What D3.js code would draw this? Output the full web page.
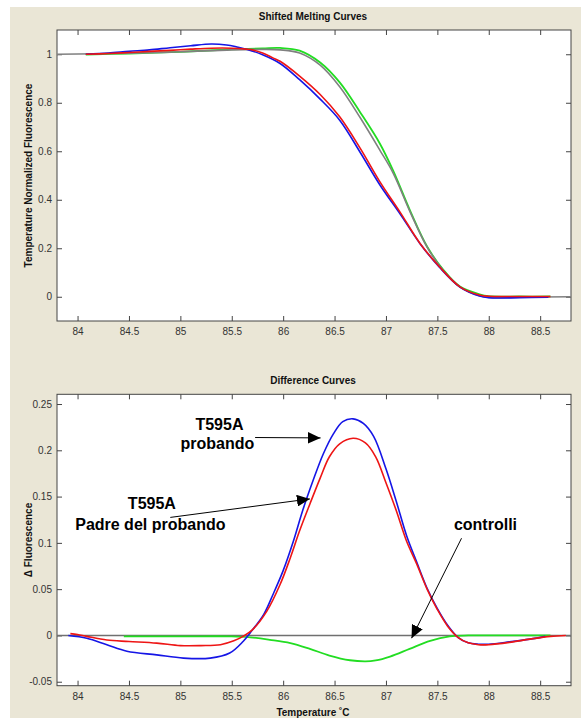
<html>
<head>
<meta charset="utf-8">
<script src="https://d3js.org/d3.v7.min.js"></script>
<style>
  body { margin: 0; background: #fff; }
  text { font-family: "Liberation Sans", Arial, sans-serif; }
  .tick text { font-size: 10px; fill: #333; }
  .tick line { stroke: #444; }
  .ttl { font-size: 10px; font-weight: bold; fill: #111; }
  .note { font-size: 16px; font-weight: bold; fill: #000; }
</style>
</head>
<body>
<svg id="chart" width="581" height="718"></svg>
<script>
// ---- top panel: Shifted Melting Curves ----
var meltBlueT = [84.08,84.3,84.5,84.7,84.9,85.1,85.3,85.45,85.55,85.65,85.8,85.97,86.16,86.36,86.55,86.75,86.94,87.14,87.33,87.52,87.72,87.91,88.0,88.3,88.58];
var meltBlue  = [1.000,1.005,1.012,1.018,1.027,1.035,1.042,1.038,1.030,1.020,0.998,0.962,0.895,0.815,0.728,0.595,0.462,0.340,0.220,0.122,0.040,0.003,-0.004,-0.004,-0.002];
var meltRedT = [84.08,84.3,84.5,84.7,84.9,85.1,85.3,85.5,85.64,85.7,85.8,85.9,85.97,86.16,86.36,86.55,86.75,86.94,87.14,87.33,87.52,87.72,87.91,88.0,88.3,88.6];
var meltRed  = [1.000,1.003,1.007,1.012,1.016,1.021,1.025,1.025,1.021,1.018,1.005,0.985,0.971,0.910,0.834,0.742,0.612,0.475,0.347,0.221,0.124,0.041,0.007,0.002,0.001,0.001];
var meltGreenT = [84.08,84.5,85.0,85.5,85.8,85.97,86.16,86.36,86.55,86.75,86.94,87.07,87.24,87.40,87.56,87.72,87.91,88.0,88.3,88.6];
var meltGreen  = [0.999,1.003,1.010,1.020,1.024,1.026,1.015,0.966,0.884,0.760,0.632,0.520,0.350,0.207,0.110,0.042,0.010,0.002,0.001,0.001];
var meltGrayT = [83.8,84.5,85.0,85.5,85.8,85.97,86.16,86.36,86.55,86.75,86.94,87.07,87.24,87.40,87.56,87.72,87.91,88.0,88.3,88.8];
var meltGray  = [1.000,1.004,1.010,1.018,1.020,1.018,1.005,0.955,0.866,0.738,0.605,0.510,0.345,0.205,0.107,0.040,0.004,-0.003,-0.002,0.000];

// ---- bottom panel: Difference Curves ----
var diffBlueT = [83.91,84.09,84.285,84.48,84.77,85.03,85.29,85.48,85.61,85.68,85.81,85.90,86.0,86.1,86.19,86.29,86.39,86.49,86.58,86.68,86.78,86.88,87.0,87.1,87.2,87.3,87.4,87.5,87.6,87.7,87.8,87.9,88.0,88.2,88.4,88.55];
var diffBlue  = [0.000,-0.003,-0.010,-0.017,-0.021,-0.0245,-0.0245,-0.019,-0.0065,0.003,0.0225,0.044,0.070,0.102,0.135,0.167,0.196,0.218,0.231,0.234,0.229,0.215,0.180,0.145,0.108,0.079,0.051,0.029,0.011,-0.002,-0.008,-0.0095,-0.0095,-0.007,-0.004,-0.001];
var diffRedT = [83.93,84.0,84.09,84.285,84.5,84.77,85.0,85.2,85.39,85.52,85.61,85.70,85.84,85.97,86.07,86.16,86.26,86.36,86.45,86.55,86.68,86.8,86.9,87.0,87.1,87.2,87.3,87.4,87.5,87.6,87.7,87.8,87.9,88.0,88.2,88.4,88.6,88.75];
var diffRed  = [0.002,0.001,-0.001,-0.005,-0.0065,-0.0083,-0.011,-0.011,-0.010,-0.0058,-0.001,0.006,0.026,0.055,0.084,0.113,0.142,0.170,0.193,0.207,0.213,0.208,0.193,0.165,0.135,0.102,0.077,0.050,0.028,0.010,-0.002,-0.008,-0.010,-0.010,-0.0075,-0.004,-0.001,0.000];
var diffGreenT = [84.45,85.0,85.5,85.68,85.87,86.07,86.26,86.45,86.65,86.8,86.9,87.04,87.23,87.43,87.62,87.8,88.2,88.6];
var diffGreen  = [-0.001,-0.001,-0.001,-0.002,-0.0047,-0.0083,-0.0145,-0.0217,-0.0268,-0.028,-0.027,-0.0228,-0.0145,-0.0058,-0.001,0.000,0.000,0.000];
var zeroT = [83.8,88.8];
var zeroV = [0,0];

var xTicks = [84,84.5,85,85.5,86,86.5,87,87.5,88,88.5];
var meltTicks = [0,0.2,0.4,0.6,0.8,1];
var diffTicks = [-0.05,0,0.05,0.1,0.15,0.2,0.25];

var svg = d3.select("#chart");
svg.append("rect").attr("x", 10).attr("y", 7).attr("width", 571).attr("height", 711).attr("fill", "#EAE6D6");

function zip(t, v) { return t.map(function(d, i) { return [d, v[i]]; }); }
function plain(d) { return String(d); }

function panel(top, bottom, yDomain, yTicks, title, ylabel) {
  var left = 57, right = 571;
  var x = d3.scaleLinear().domain([83.8, 88.8]).range([left, right]);
  var y = d3.scaleLinear().domain(yDomain).range([bottom, top]);
  svg.append("rect").attr("x", left).attr("y", top).attr("width", right - left).attr("height", bottom - top)
     .attr("fill", "#fff");

  svg.append("g").attr("transform", "translate(0," + bottom + ")")
     .call(d3.axisBottom(x).tickValues(xTicks).tickSizeInner(-5).tickSizeOuter(0).tickPadding(7).tickFormat(plain));
  svg.append("g").attr("transform", "translate(0," + top + ")")
     .call(d3.axisTop(x).tickValues(xTicks).tickSizeInner(-5).tickSizeOuter(0).tickFormat(""));
  svg.append("g").attr("transform", "translate(" + left + ",0)")
     .call(d3.axisLeft(y).tickValues(yTicks).tickSizeInner(-5).tickSizeOuter(0).tickPadding(5).tickFormat(plain));
  svg.append("g").attr("transform", "translate(" + right + ",0)")
     .call(d3.axisRight(y).tickValues(yTicks).tickSizeInner(-5).tickSizeOuter(0).tickFormat(""));
  svg.selectAll(".domain").remove();

  svg.append("rect").attr("x", left).attr("y", top).attr("width", right - left).attr("height", bottom - top)
     .attr("fill", "none").attr("stroke", "#444").attr("stroke-width", 1);

  svg.append("text").attr("class", "ttl").attr("x", 313).attr("y", top - 10)
     .attr("text-anchor", "middle").text(title);
  svg.append("text").attr("class", "ttl").attr("font-size", "11px")
     .attr("transform", "translate(32," + ((top + bottom) / 2) + ") rotate(-90)")
     .attr("text-anchor", "middle").text(ylabel);
  return { x: x, y: y };
}

function curve(p, t, v, color, w) {
  var line = d3.line().x(function(d) { return p.x(d[0]); }).y(function(d) { return p.y(d[1]); })
     .curve(d3.curveCatmullRom.alpha(0.5));
  svg.append("path").datum(zip(t, v)).attr("d", line)
     .attr("fill", "none").attr("stroke", color).attr("stroke-width", w || 1.6);
}

var p1 = panel(30, 321, [-0.1, 1.1], meltTicks, "Shifted Melting Curves", "Temperature Normalized Fluorescence");
curve(p1, meltGreenT, meltGreen, "#22DD22", 1.8);
curve(p1, meltGrayT, meltGray, "#808080", 1.6);
curve(p1, meltBlueT, meltBlue, "#1515E6", 1.6);
curve(p1, meltRedT, meltRed, "#EE1515", 1.6);

var p2 = panel(394.3, 685.7, [-0.0543, 0.2605], diffTicks, "Difference Curves", "\u0394 Fluorescence");
curve(p2, zeroT, zeroV, "#707070", 1.4);
curve(p2, diffGreenT, diffGreen, "#22DD22", 1.8);
curve(p2, diffBlueT, diffBlue, "#1515E6", 1.6);
curve(p2, diffRedT, diffRed, "#EE1515", 1.6);

svg.append("text").attr("class", "ttl").attr("font-size", "11px").attr("x", 313).attr("y", 716)
   .attr("text-anchor", "middle").text("Temperature \u02DAC");

// annotations (data coordinates of the difference panel)
var notes = [
  { lines: ["T595A", "probando"], at: [[85.38, 0.222], [85.36, 0.201]], from: [85.727, 0.2138], to: [86.364, 0.2134] },
  { lines: ["T595A", "Padre del probando"], at: [[84.723, 0.137], [84.708, 0.114]], from: [84.902, 0.1275], to: [86.26, 0.1475] },
  { lines: ["controlli"], at: [[87.968, 0.114]], from: [87.735, 0.105], to: [87.249, -0.003] }
];

var defs = svg.append("defs");
defs.append("marker").attr("id", "head").attr("viewBox", "0 0 13 12").attr("refX", 13).attr("refY", 6)
    .attr("markerWidth", 13).attr("markerHeight", 12).attr("markerUnits", "userSpaceOnUse").attr("orient", "auto")
  .append("path").attr("d", "M0,0 L13,6 L0,12 Z").attr("fill", "#000");

notes.forEach(function(n) {
  n.lines.forEach(function(s, i) {
    svg.append("text").attr("class", "note").attr("x", p2.x(n.at[i][0])).attr("y", p2.y(n.at[i][1]))
       .attr("text-anchor", "middle").text(s);
  });
  svg.append("line").attr("x1", p2.x(n.from[0])).attr("y1", p2.y(n.from[1]))
     .attr("x2", p2.x(n.to[0])).attr("y2", p2.y(n.to[1]))
     .attr("stroke", "#000").attr("stroke-width", 1).attr("marker-end", "url(#head)");
});
</script>
</body>
</html>
